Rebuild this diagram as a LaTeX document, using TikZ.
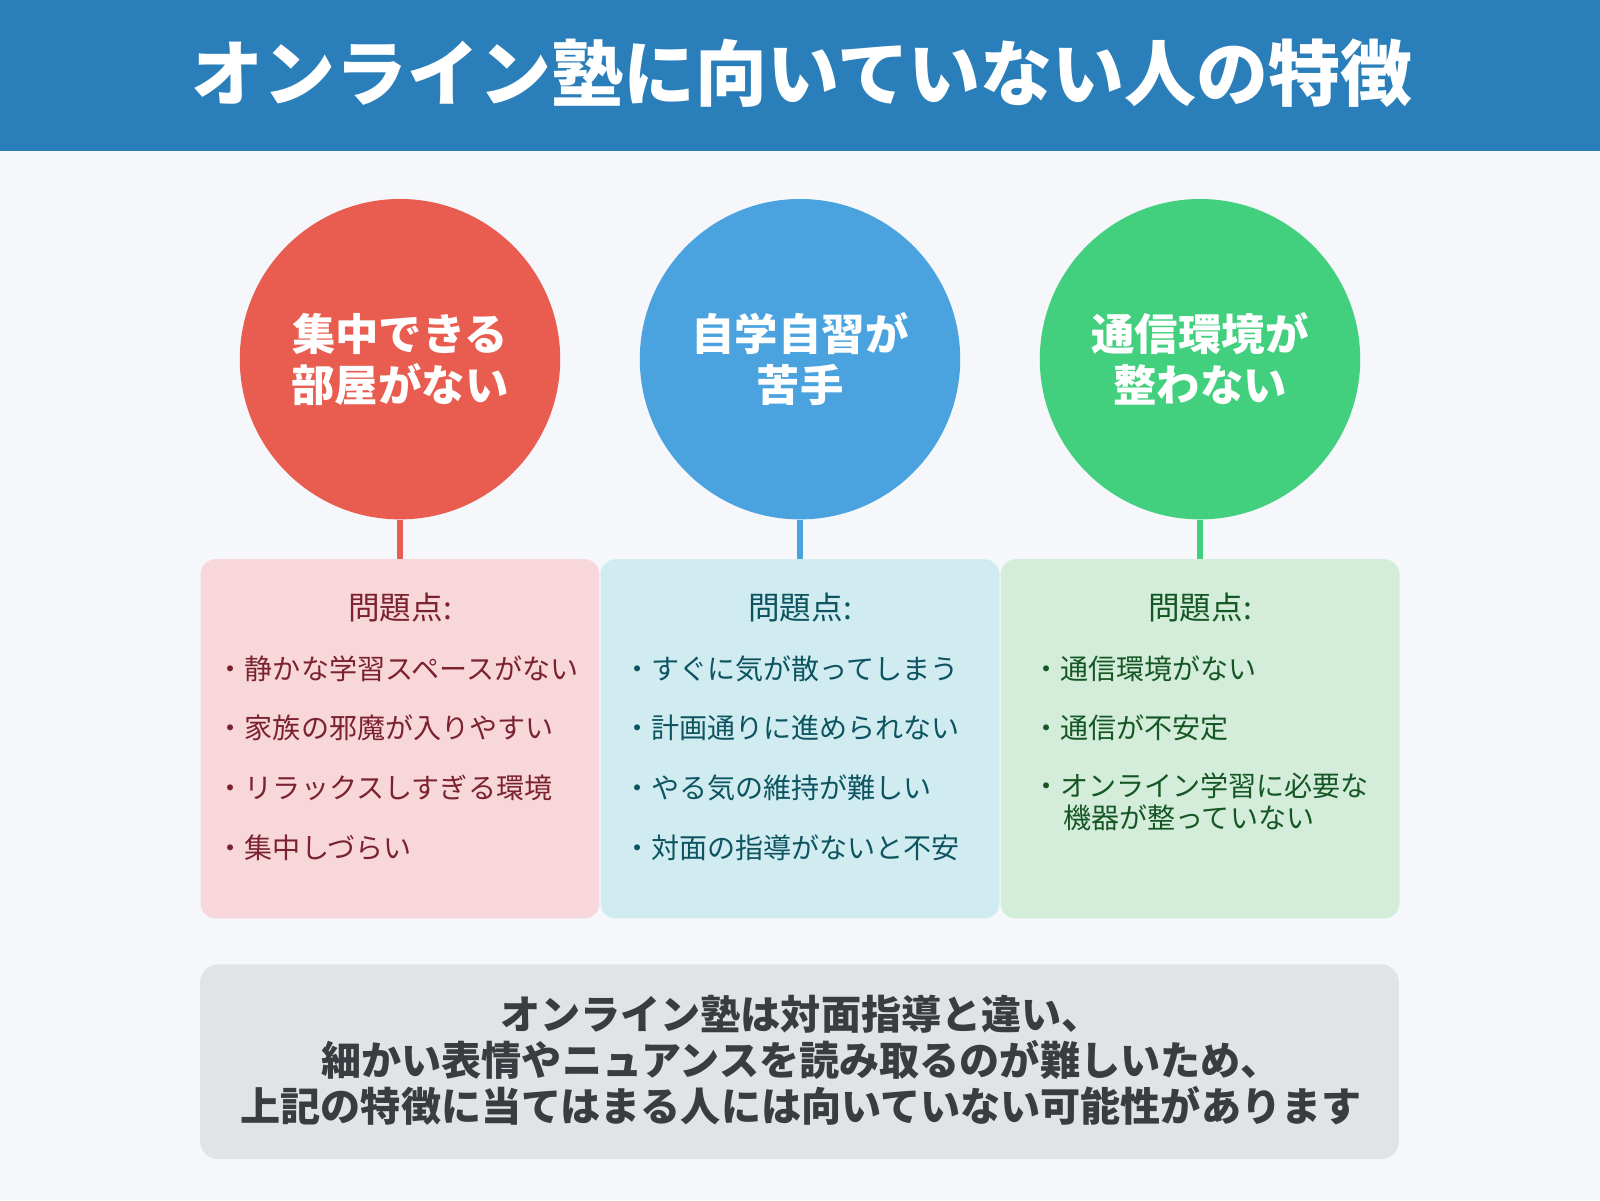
\documentclass[tikz,border=0pt]{standalone}
\usepackage{fontspec}
\setmainfont{Noto Sans CJK JP}
\definecolor{bg}{HTML}{F5F7FA}
\definecolor{hdr}{HTML}{2A7FBA}
\definecolor{cr}{HTML}{E95D50}
\definecolor{cb}{HTML}{4AA3DF}
\definecolor{cg}{HTML}{43D07E}
\definecolor{fr}{HTML}{F8D7DA}
\definecolor{fb}{HTML}{D1ECF1}
\definecolor{fg}{HTML}{D4EDDA}
\definecolor{tr}{HTML}{7B2230}
\definecolor{tb}{HTML}{0C5460}
\definecolor{tg}{HTML}{155724}
\definecolor{fs}{HTML}{E2E3E5}
\definecolor{ts}{HTML}{383D41}
\begin{document}
\begin{tikzpicture}[x=1pt,y=-1pt,
  circ/.style={circle,minimum size=314pt,inner sep=0pt,text=white,font=\fontsize{42.5}{50}\selectfont\bfseries,align=center},
  pbox/.style={rounded corners=15pt,minimum width=391pt,minimum height=352pt,inner sep=0pt},
  head/.style={font=\fontsize{31}{34}\selectfont},
  item/.style={font=\fontsize{27.5}{31}\selectfont,anchor=west,align=left}]
\fill[bg] (0,0) rectangle (1568,1176);
\useasboundingbox (0,0) rectangle (1568,1176);
\fill[hdr] (0,0) rectangle (1568,148);
\node[text=white,font=\fontsize{70.5}{75}\selectfont\bfseries] (title) at (786,72) {オンライン塾に向いていない人の特徴};
\foreach \cx/\cc/\ff/\tt/\nm in {392/cr/fr/tr/a,784/cb/fb/tb/b,1176/cg/fg/tg/c}{
  \node[pbox,fill=\ff] (box\nm) at (\cx,724) {};
  \node[circ,fill=\cc] (circ\nm) at (\cx,352) {};
  \draw[\cc,line width=5pt] (circ\nm.south) -- (box\nm.north);
  \node[head,text=\tt] (head\nm) at (\cx,595) {問題点:};
}
\node[circ] at (circa) {集中できる\\部屋がない};
\node[circ] at (circb) {自学自習が\\苦手};
\node[circ] at (circc) {通信環境が\\整わない};
\begin{scope}[every node/.style={item,text=tr}]
\node (a1) at (209,655) {・静かな学習スペースがない};
\node (a2) at (209,713) {・家族の邪魔が入りやすい};
\node (a3) at (209,772) {・リラックスしすぎる環境};
\node (a4) at (209,831) {・集中しづらい};
\end{scope}
\begin{scope}[every node/.style={item,text=tb}]
\node (b1) at (607,655) {・すぐに気が散ってしまう};
\node (b2) at (607,713) {・計画通りに進められない};
\node (b3) at (607,772) {・やる気の維持が難しい};
\node (b4) at (607,831) {・対面の指導がないと不安};
\end{scope}
\begin{scope}[every node/.style={item,text=tg}]
\node (c1) at (1008,655) {・通信環境がない};
\node (c2) at (1008,713) {・通信が不安定};
\node[anchor=north west] (c3) at (1008,754) {・オンライン学習に必要な\\\hspace{1.1em}機器が整っていない};
\end{scope}
\node[rounded corners=18pt,fill=fs,minimum width=1175pt,minimum height=191pt,inner sep=0pt] (sum) at (783.5,1040.5) {};
\node[text=ts,font=\fontsize{39.3}{45}\selectfont\bfseries,align=center] at (785,1039) {オンライン塾は対面指導と違い、\\細かい表情やニュアンスを読み取るのが難しいため、\\上記の特徴に当てはまる人には向いていない可能性があります};
\end{tikzpicture}
\end{document}
